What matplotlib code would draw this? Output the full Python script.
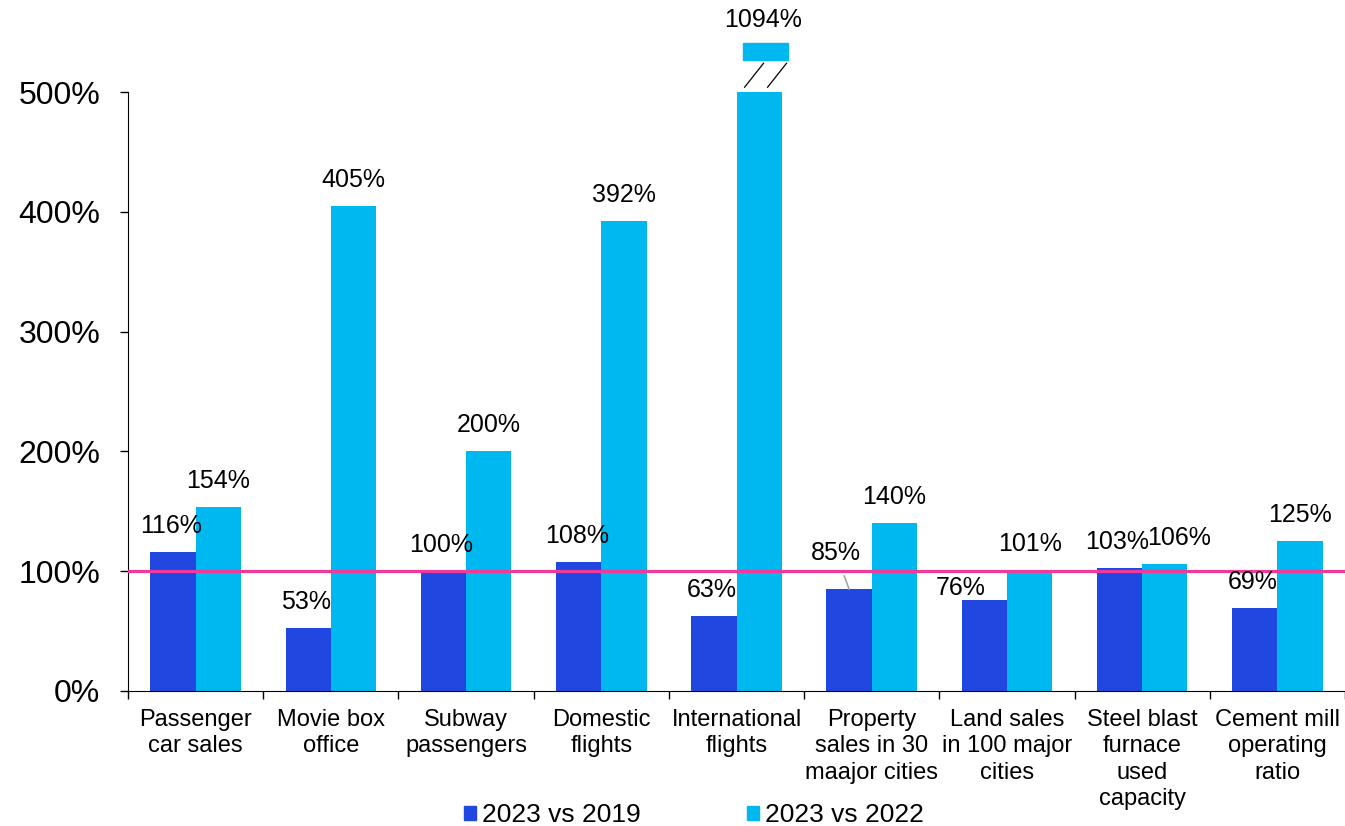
import matplotlib
matplotlib.use("Agg")
import matplotlib.pyplot as plt
from matplotlib.patches import Patch, Rectangle
from matplotlib.ticker import FuncFormatter
import numpy as np

plt.rcParams['font.family'] = ['Liberation Sans', 'DejaVu Sans']

# data
categories = ['Passenger\ncar sales', 'Movie box\noffice', 'Subway\npassengers',
              'Domestic\nflights', 'International\nflights', 'Property\nsales in 30\nmaajor cities',
              'Land sales\nin 100 major\ncities', 'Steel blast\nfurnace\nused\ncapacity',
              'Cement mill\noperating\nratio']
vs_2019 = [116, 53, 100, 108, 63, 85, 76, 103, 69]
vs_2022 = [154, 405, 200, 392, 1094, 140, 101, 106, 125]
series_names = ['2023 vs 2019', '2023 vs 2022']
axis_cap = 500  # bars above this are shown broken

dark = '#2047E0'
light = '#00B8F0'
pink = '#EE3A9C'

fig = plt.figure(figsize=(13.45, 8.26), dpi=100)
ax = fig.add_axes([128 / 1345, 1 - 691 / 826, 1 - 128 / 1345, 691 / 826])

x = np.arange(len(categories))
w = 0.335
ax.bar(x - w / 2, vs_2019, w, color=dark, zorder=2)
ax.bar(x + w / 2, np.minimum(vs_2022, axis_cap), w, color=light, zorder=2)

ax.axhline(100, color=pink, lw=2.3, zorder=3)

ymax = 691 / (599 / 500)
ax.set_ylim(0, ymax)
ax.set_xlim(-0.5, len(categories) - 0.5)

# broken bar piece
for i, v in enumerate(vs_2022):
    if v > axis_cap:
        shift = 0.045
        ax.add_patch(Rectangle((i + shift, 526.5), w, 14.5, color=light, zorder=2, clip_on=False))
        for dx in (0.0, 0.17):
            ax.plot([i + 0.06 + dx, i + 0.06 + dx + 0.14], [504, 524], color='black', lw=0.9, zorder=3)
        ax.text(i + w / 2 + 0.03, 560, f'{v}%', ha='center', va='center', fontsize=18)

# value labels (pixel offsets)
off_2019 = {5: (-13, 36), 6: (-24, 12)}
off_2022 = {7: (14, 26)}
px = 0.72
for i, v in enumerate(vs_2019):
    dx, dy = off_2019.get(i, (-2, 26))
    if i == 5:
        ax.annotate(f'{v}%', xy=(i - w / 2, v), xytext=(dx * px, dy * px), textcoords='offset points',
                    ha='center', va='center', fontsize=18,
                    arrowprops=dict(arrowstyle='-', color='#A6A6A6', lw=1.2, shrinkA=6, shrinkB=0))
    else:
        ax.annotate(f'{v}%', xy=(i - w / 2, v), xytext=(dx * px, dy * px), textcoords='offset points',
                    ha='center', va='center', fontsize=18)
for i, v in enumerate(vs_2022):
    if v > axis_cap:
        continue
    dx, dy = off_2022.get(i, (0, 26))
    ax.annotate(f'{v}%', xy=(i + w / 2, v), xytext=(dx * px, dy * px), textcoords='offset points',
                ha='center', va='center', fontsize=18)

# axes styling
for s in ('top', 'right'):
    ax.spines[s].set_visible(False)
ax.spines['left'].set_bounds(0, 500)
ax.set_yticks(np.arange(0, 501, 100))
ax.yaxis.set_major_formatter(FuncFormatter(lambda v, p: f'{v:.0f}%'))
ax.tick_params(axis='y', length=6, width=1, pad=14, labelsize=23)
ax.set_xticks(x)
ax.set_xticklabels(categories, fontsize=17, linespacing=1.26, va='top')
ax.tick_params(axis='x', length=0, pad=13)
ax.set_xticks(np.arange(-0.5, len(categories)), minor=True)
ax.tick_params(axis='x', which='minor', length=6, width=1)

handles = [Patch(color=dark), Patch(color=light)]
fig.legend(handles, series_names, loc='center', bbox_to_anchor=(0.516, 1 - 815 / 826),
           ncol=2, frameon=False, fontsize=19, handlelength=0.45, handleheight=0.45,
           handletextpad=0.25, columnspacing=4.0, borderpad=0)

fig.savefig('out.png', dpi=100)
